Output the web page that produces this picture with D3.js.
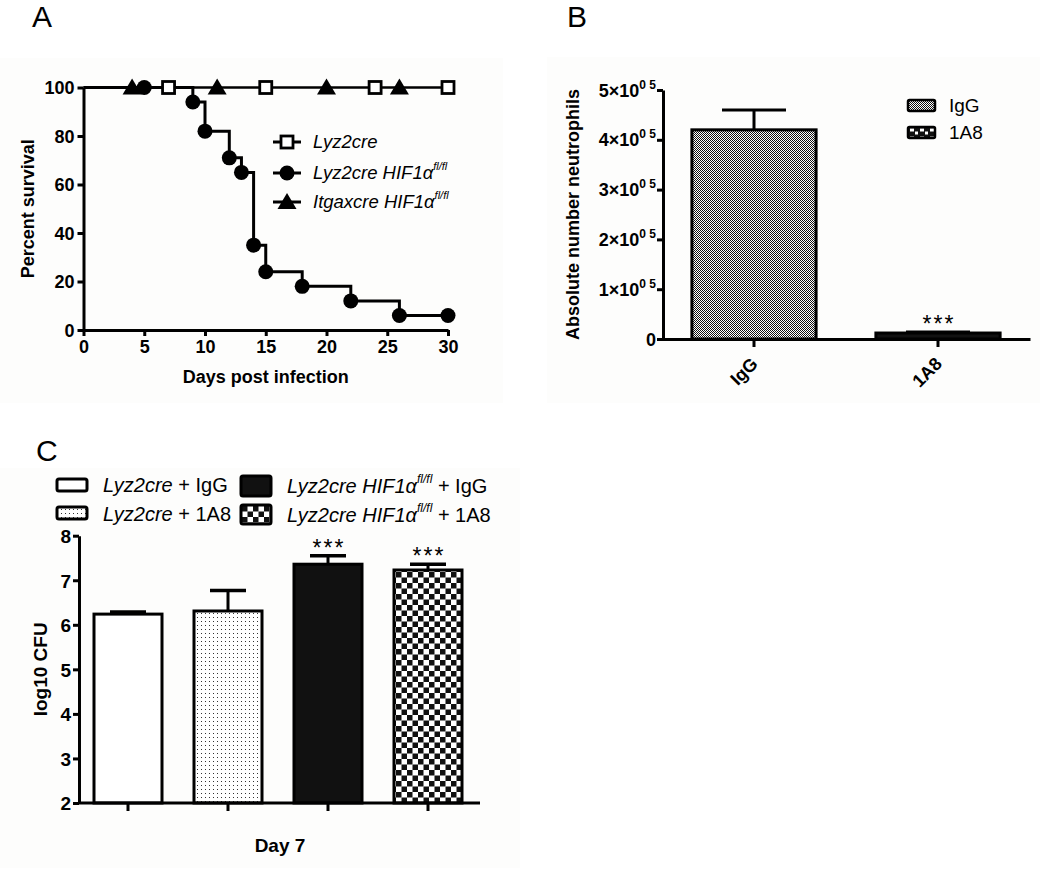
<!DOCTYPE html>
<html><head><meta charset="utf-8">
<script src="https://cdn.jsdelivr.net/npm/d3@7"></script>
<style>
body{margin:0;background:#fff}
text{font-family:"Liberation Sans",Arial,Helvetica,sans-serif;fill:#000}
</style>
</head><body>
<svg id="chart" width="1050" height="875"></svg>
<script>
// ---------- Panel A data ----------
const aXTicks = [0,5,10,15,20,25,30];
const aYTicks = [0,20,40,60,80,100];
const lyzMarkerDays = [7,15,24,30];
const itgaxMarkerDays = [4,11,20,26];
const hifDays = [0,9,10,12,13,14,15,18,22,26,30];
const hifSurv = [100,94,82,71,65,35,24,18,12,6,6];
const hifMarkerDays = [5,9,10,12,13,14,15,18,22,26,30];
const hifMarkerSurv = [100,94,82,71,65,35,24,18,12,6,6];
const aLegend = ["Lyz2cre","Lyz2cre HIF1α","Itgaxcre HIF1α"];
const aLegendSup = ["","fl/fl","fl/fl"];

// ---------- Panel B data ----------
const bGroups = ["IgG","1A8"];
const bMeans = [420000, 12000];
const bErr = [40000, 2000];
const bYTicks = [0,100000,200000,300000,400000,500000];

// ---------- Panel C data ----------
const cGroups = ["Lyz2cre + IgG","Lyz2cre + 1A8","Lyz2cre HIF1α fl/fl + IgG","Lyz2cre HIF1α fl/fl + 1A8"];
const cMeans = [6.24, 6.31, 7.36, 7.23];
const cErr = [0.05, 0.46, 0.19, 0.13];
const cYTicks = [2,3,4,5,6,7,8];
const cSig = ["","","***","***"];

const svg = d3.select("#chart");
const defs = svg.append("defs");

// patterns
const pFine = defs.append("pattern").attr("id","fine").attr("width",2).attr("height",2).attr("patternUnits","userSpaceOnUse");
pFine.append("rect").attr("width",2).attr("height",2).attr("fill","#fff");
pFine.append("rect").attr("width",1).attr("height",1).attr("fill","#111");
pFine.append("rect").attr("x",1).attr("y",1).attr("width",1).attr("height",1).attr("fill","#111");

const pDash = defs.append("pattern").attr("id","dash").attr("width",10).attr("height",8).attr("patternUnits","userSpaceOnUse");
pDash.append("rect").attr("width",10).attr("height",8).attr("fill","#111");
pDash.append("rect").attr("x",2).attr("y",3).attr("width",6).attr("height",2).attr("fill","#fff");

const pDashL = defs.append("pattern").attr("id","dashL").attr("width",10).attr("height",8).attr("patternUnits","userSpaceOnUse")
  .attr("x",908).attr("y",127);
pDashL.append("rect").attr("width",10).attr("height",8).attr("fill","#111");
pDashL.append("rect").attr("x",2).attr("y",1.5).attr("width",4).attr("height",3).attr("fill","#fff");
pDashL.append("rect").attr("x",7).attr("y",4.5).attr("width",3).attr("height",3).attr("fill","#fff");

const pDot = defs.append("pattern").attr("id","dots").attr("width",4).attr("height",4).attr("patternUnits","userSpaceOnUse");
pDot.append("rect").attr("width",4).attr("height",4).attr("fill","#fff");
pDot.append("rect").attr("x",1).attr("y",1).attr("width",1).attr("height",1).attr("fill","#333");

const pCheck = defs.append("pattern").attr("id","check").attr("width",11).attr("height",11).attr("patternUnits","userSpaceOnUse");
pCheck.append("rect").attr("width",11).attr("height",11).attr("fill","#fff");
pCheck.append("rect").attr("width",5.5).attr("height",5.5).attr("fill","#111");
pCheck.append("rect").attr("x",5.5).attr("y",5.5).attr("width",5.5).attr("height",5.5).attr("fill","#111");

// faint panel backgrounds
svg.append("rect").attr("x",0).attr("y",58).attr("width",503).attr("height",345).attr("fill","#fdfdfc");
svg.append("rect").attr("x",547).attr("y",57).attr("width",493).attr("height",346).attr("fill","#fdfdfc");
svg.append("rect").attr("x",0).attr("y",468).attr("width",520).attr("height",400).attr("fill","#fdfdfc");

// panel letters
[["A",32,27],["B",567,27],["C",36,461]].forEach(([t,x,y])=>{
  svg.append("text").attr("x",x).attr("y",y).attr("font-size",30).text(t);
});

function styleAxis(g, fs){
  g.selectAll(".domain").attr("stroke","#000").attr("stroke-width",3);
  g.selectAll(".tick line").attr("stroke","#000").attr("stroke-width",3);
  g.selectAll(".tick text").attr("font-size",fs).attr("font-weight","bold").attr("fill","#000")
    .style("font-family",'"Liberation Sans",Arial,sans-serif');
}

// ================= Panel A =================
const xA = d3.scaleLinear().domain([0,30]).range([83.5,448]);
const yA = d3.scaleLinear().domain([0,100]).range([330,87.5]);

const gAx = svg.append("g").attr("transform",`translate(0,${yA(0)})`)
  .call(d3.axisBottom(xA).tickValues(aXTicks).tickSize(6).tickSizeOuter(0).tickPadding(4));
styleAxis(gAx,18);
const gAy = svg.append("g").attr("transform",`translate(${xA(0)},0)`)
  .call(d3.axisLeft(yA).tickValues(aYTicks).tickSize(6).tickSizeOuter(0).tickPadding(3));
styleAxis(gAy,18);
gAy.selectAll(".tick text").attr("dy","0.36em");

svg.append("text").attr("transform",`translate(34,${(yA(0)+yA(100))/2}) rotate(-90)`)
  .attr("text-anchor","middle").attr("font-size",18).attr("font-weight","bold").text("Percent survival");
svg.append("text").attr("x",(xA(0)+xA(30))/2).attr("y",383)
  .attr("text-anchor","middle").attr("font-size",18).attr("font-weight","bold").text("Days post infection");

// lines at 100%
svg.append("line").attr("x1",xA(0)).attr("x2",xA(30)).attr("y1",yA(100)).attr("y2",yA(100))
  .attr("stroke","#000").attr("stroke-width",2.5);
// HIF step line
const stepLine = d3.line().x((d,i)=>xA(hifDays[i])).y((d,i)=>yA(hifSurv[i])).curve(d3.curveStepAfter);
svg.append("path").attr("d",stepLine(hifDays)).attr("fill","none").attr("stroke","#000").attr("stroke-width",3);

function tri(x,y){ return `M${x},${y-9}L${x+9.5},${y+7}L${x-9.5},${y+7}Z`; }
// markers
svg.selectAll(".itg").data(itgaxMarkerDays).join("path").attr("d",d=>tri(xA(d),yA(100))).attr("fill","#000");
svg.selectAll(".hif").data(hifMarkerDays).join("circle").attr("cx",d=>xA(d)).attr("cy",(d,i)=>yA(hifMarkerSurv[i])).attr("r",7.5).attr("fill","#000");
svg.selectAll(".lyz").data(lyzMarkerDays).join("rect").attr("x",d=>xA(d)-6).attr("y",yA(100)-6).attr("width",12).attr("height",12)
  .attr("fill","#fff").attr("stroke","#000").attr("stroke-width",2.8);

// legend A
const aLegY = [142,173,202];
aLegend.forEach((lab,i)=>{
  const y = aLegY[i], cx = 287;
  svg.append("line").attr("x1",273).attr("x2",301).attr("y1",y).attr("y2",y).attr("stroke","#000").attr("stroke-width",3);
  if(i===0) svg.append("rect").attr("x",cx-6).attr("y",y-6).attr("width",12).attr("height",12).attr("fill","#fff").attr("stroke","#000").attr("stroke-width",2.8);
  if(i===1) svg.append("circle").attr("cx",cx).attr("cy",y).attr("r",7.5).attr("fill","#000");
  if(i===2) svg.append("path").attr("d",tri(cx,y)).attr("fill","#000");
  const t = svg.append("text").attr("x",313).attr("y",y+6).attr("font-size",18.5).attr("font-style","italic");
  t.append("tspan").text(lab);
  if(aLegendSup[i]) t.append("tspan").attr("dy",-9).attr("font-size",11).text(aLegendSup[i]);
});

// ================= Panel B =================
const xB = d3.scaleBand().domain(bGroups).range([662,1030]).padding(0);
const yB = d3.scaleLinear().domain([0,500000]).range([339,90]);
const bBarW = xB.bandwidth()*0.675;
const bFills = ["url(#fine)","url(#dash)"];

svg.selectAll(".barB").data(bGroups).join("rect")
  .attr("x",d=>xB(d)+xB.bandwidth()/2-bBarW/2).attr("width",bBarW)
  .attr("y",(d,i)=>yB(bMeans[i])).attr("height",(d,i)=>yB(0)-yB(bMeans[i]))
  .attr("fill",(d,i)=>bFills[i]).attr("stroke","#000").attr("stroke-width",3);
bGroups.forEach((g,i)=>{
  const cx = xB(g)+xB.bandwidth()/2;
  svg.append("line").attr("x1",cx).attr("x2",cx).attr("y1",yB(bMeans[i])).attr("y2",yB(bMeans[i]+bErr[i])).attr("stroke","#000").attr("stroke-width",3);
  svg.append("line").attr("x1",cx-32).attr("x2",cx+32).attr("y1",yB(bMeans[i]+bErr[i])).attr("y2",yB(bMeans[i]+bErr[i])).attr("stroke","#000").attr("stroke-width",3);
});
svg.append("text").attr("x",xB("1A8")+xB.bandwidth()/2+1).attr("y",332).attr("text-anchor","middle")
  .attr("font-size",23).attr("letter-spacing",2).text("***");

const gBx = svg.append("g").attr("transform",`translate(0,${yB(0)})`)
  .call(d3.axisBottom(xB).tickSize(8).tickSizeOuter(0));
styleAxis(gBx,18);
gBx.selectAll(".tick text").attr("text-anchor","end").attr("dy",0).attr("y",0)
  .attr("transform","translate(5,26) rotate(-45)");
const gBy = svg.append("g").attr("transform",`translate(663,0)`)
  .call(d3.axisLeft(yB).tickValues(bYTicks).tickSize(6).tickSizeOuter(0).tickFormat(""));
styleAxis(gBy,18);
gBy.selectAll(".tick").each(function(d){
  const t = d3.select(this).append("text").attr("x",-7).attr("y",6).attr("text-anchor","end")
    .attr("font-size",18).attr("font-weight","bold");
  if(d===0){ t.text("0"); }
  else {
    t.append("tspan").text(`${d/100000}×10`);
    t.append("tspan").attr("dy",-8).attr("font-size",12).text("0 5");
  }
});
svg.append("text").attr("transform",`translate(579,${(yB(0)+yB(500000))/2}) rotate(-90)`)
  .attr("text-anchor","middle").attr("font-size",18).attr("font-weight","bold").text("Absolute number neutrophils");

// legend B
bGroups.forEach((g,i)=>{
  const y = [100,127][i];
  svg.append("rect").attr("x",908).attr("y",y).attr("width",27).attr("height",11)
    .attr("fill",i===0?"url(#fine)":"url(#dashL)").attr("stroke","#000").attr("stroke-width",2.5).attr("rx",1.5);
  svg.append("text").attr("x",949).attr("y",y+12).attr("font-size",19).text(g);
});

// ================= Panel C =================
const xC = d3.scaleBand().domain(cGroups).range([78,478]).padding(0);
const yC = d3.scaleLinear().domain([2,8]).range([803,535.7]);
const cBarW = xC.bandwidth()*0.68;
const cFills = ["#fff","url(#dots)","#111","url(#check)"];

svg.selectAll(".barC").data(cGroups).join("rect")
  .attr("x",d=>xC(d)+xC.bandwidth()/2-cBarW/2).attr("width",cBarW)
  .attr("y",(d,i)=>yC(cMeans[i])).attr("height",(d,i)=>yC(2)-yC(cMeans[i]))
  .attr("fill",(d,i)=>cFills[i]).attr("stroke","#000").attr("stroke-width",3);
cGroups.forEach((g,i)=>{
  const cx = xC(g)+xC.bandwidth()/2;
  const top = yC(cMeans[i]+cErr[i]);
  svg.append("line").attr("x1",cx).attr("x2",cx).attr("y1",yC(cMeans[i])).attr("y2",top).attr("stroke","#000").attr("stroke-width",3);
  svg.append("line").attr("x1",cx-18).attr("x2",cx+18).attr("y1",top).attr("y2",top).attr("stroke","#000").attr("stroke-width",3.5);
  if(cSig[i]) svg.append("text").attr("x",cx+1).attr("y",top).attr("text-anchor","middle")
    .attr("font-size",23).attr("letter-spacing",2).text(cSig[i]);
});

const gCx = svg.append("g").attr("transform",`translate(0,${yC(2)})`)
  .call(d3.axisBottom(xC).tickSize(8).tickSizeOuter(0).tickFormat(""));
styleAxis(gCx,18);
gCx.select(".domain").attr("d","M78,0H480");
const gCy = svg.append("g").attr("transform",`translate(79,0)`)
  .call(d3.axisLeft(yC).tickValues(cYTicks).tickFormat(d3.format("d")).tickSize(6).tickSizeOuter(0).tickPadding(2));
styleAxis(gCy,19);
gCy.selectAll(".tick text").attr("dy","0.36em");
svg.append("text").attr("transform",`translate(47,${(yC(2)+yC(8))/2}) rotate(-90)`)
  .attr("text-anchor","middle").attr("font-size",19).attr("font-weight","bold").text("log10 CFU");
svg.append("text").attr("x",280).attr("y",852).attr("text-anchor","middle")
  .attr("font-size",19).attr("font-weight","bold").text("Day 7");

// legend C
const cLegPos = [[57,103,492,479,12],[57,103,521,507,12],[241,287,493,476,20],[241,287,522,505,19]];
cGroups.forEach((g,i)=>{
  const [sx,tx,by,sy,sh] = cLegPos[i];
  svg.append("rect").attr("x",sx).attr("y",sy).attr("width",30).attr("height",sh).attr("rx",2)
    .attr("fill",cFills[i]).attr("stroke","#000").attr("stroke-width",3);
  const t = svg.append("text").attr("x",tx).attr("y",by).attr("font-size",20);
  const parts = g.split(" + ");
  const name = parts[0].replace(" fl/fl","");
  t.append("tspan").attr("font-style","italic").text(name);
  if(parts[0].includes("fl/fl")) t.append("tspan").attr("dy",-10).attr("font-size",12).attr("font-style","italic").text("fl/fl");
  t.append("tspan").attr("dy",parts[0].includes("fl/fl")?10:0).text(" + "+parts[1]);
});
</script>
</body></html>
